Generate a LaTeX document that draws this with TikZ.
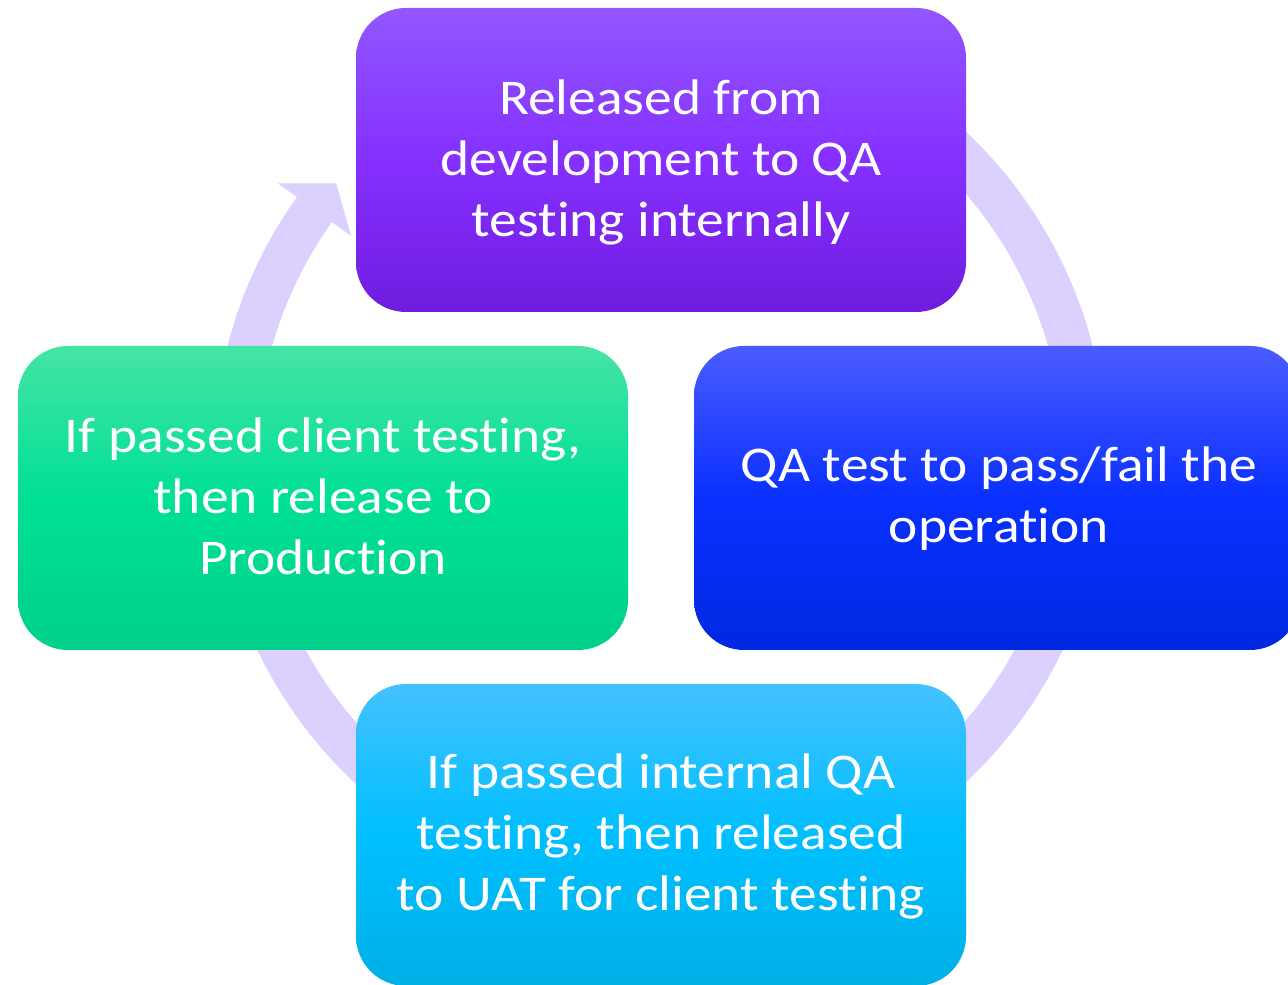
\documentclass[tikz,border=0pt]{standalone}
\usepackage{fontspec}
\setmainfont{Carlito}[Ligatures={NoCommon}, FakeStretch=1.11]
\usetikzlibrary{calc}
\definecolor{ringcol}{RGB}{220,208,255}
\definecolor{purT}{HTML}{9257FF}
\definecolor{purM}{HTML}{8530FF}
\definecolor{purB}{HTML}{6F1CDF}
\definecolor{grnT}{HTML}{45E4A4}
\definecolor{grnM}{HTML}{00E096}
\definecolor{grnB}{HTML}{00D08C}
\definecolor{bluT}{HTML}{4A5CFF}
\definecolor{bluM}{HTML}{0A30FF}
\definecolor{bluB}{HTML}{0028E0}
\definecolor{cyaT}{HTML}{44C1FF}
\definecolor{cyaM}{HTML}{00BFFF}
\definecolor{cyaB}{HTML}{00B0E6}
\tikzset{
  cyclebox/.style={rounded corners=50pt, inner sep=0pt, align=center,
    text=white, font=\fontsize{50}{61}\selectfont,
    minimum height=304pt},
  ring/.style={draw=ringcol, line width=43pt, line cap=butt},
  ringhead/.style={fill=ringcol, draw=none}
}
\newcommand{\boxtext}[1]{\raisebox{-3pt}{\begin{tabular}{@{}c@{}}#1\end{tabular}}}
\begin{document}
\begin{tikzpicture}[x=1pt,y=1pt]
\clip (0,0) rectangle (1288,985);
\fill[white] (0,0) rectangle (1288,985);
\coordinate (c) at (660,528);
% circular arrow behind the boxes
\draw[ring] ($(c)+(130:425)$) arc[start angle=130, end angle=-215.6, radius=425];
\fill[ringhead] ($(c)+(144.4:446)$) -- ($(c)+(144.4:470)$) -- ($(c)+(139.8:424)$)
  -- ($(c)+(144.4:380)$) -- ($(c)+(144.4:404)$) -- cycle;
% boxes
\node[cyclebox, minimum width=610pt, top color=purT, bottom color=purB, middle color=purM]
  (top) at (661,825) {};
\node[text=white, font=\fontsize{50}{61}\selectfont, align=center, inner sep=0pt, yshift=-3pt]
  (toptext) at (top.center) {\strut Released from\\development to QA\\testing internally\strut};
\node[cyclebox, minimum width=606pt, top color=bluT, bottom color=bluB, middle color=bluM]
  (right) at (997,487) {};
\node[text=white, font=\fontsize{50}{61}\selectfont, align=center, inner sep=0pt, yshift=-2pt, xshift=2pt]
  (righttext) at (right.center) {\strut QA test to pass/fail the\\operation\strut};
\node[cyclebox, minimum width=610pt, minimum height=302pt, top color=cyaT, bottom color=cyaB, middle color=cyaM]
  (bottom) at (661,150) {};
\node[text=white, font=\fontsize{50}{61}\selectfont, align=center, inner sep=0pt, yshift=-2pt]
  (bottomtext) at (bottom.center) {\strut If passed internal QA\\testing, then released\\to UAT for client testing\strut};
\node[cyclebox, minimum width=610pt, top color=grnT, bottom color=grnB, middle color=grnM]
  (left) at (323,487) {};
\node[text=white, font=\fontsize{50}{61}\selectfont, align=center, inner sep=0pt, yshift=-3pt]
  (lefttext) at (left.center) {\strut If passed client testing,\\then release to\\Production\strut};
\end{tikzpicture}
\end{document}
